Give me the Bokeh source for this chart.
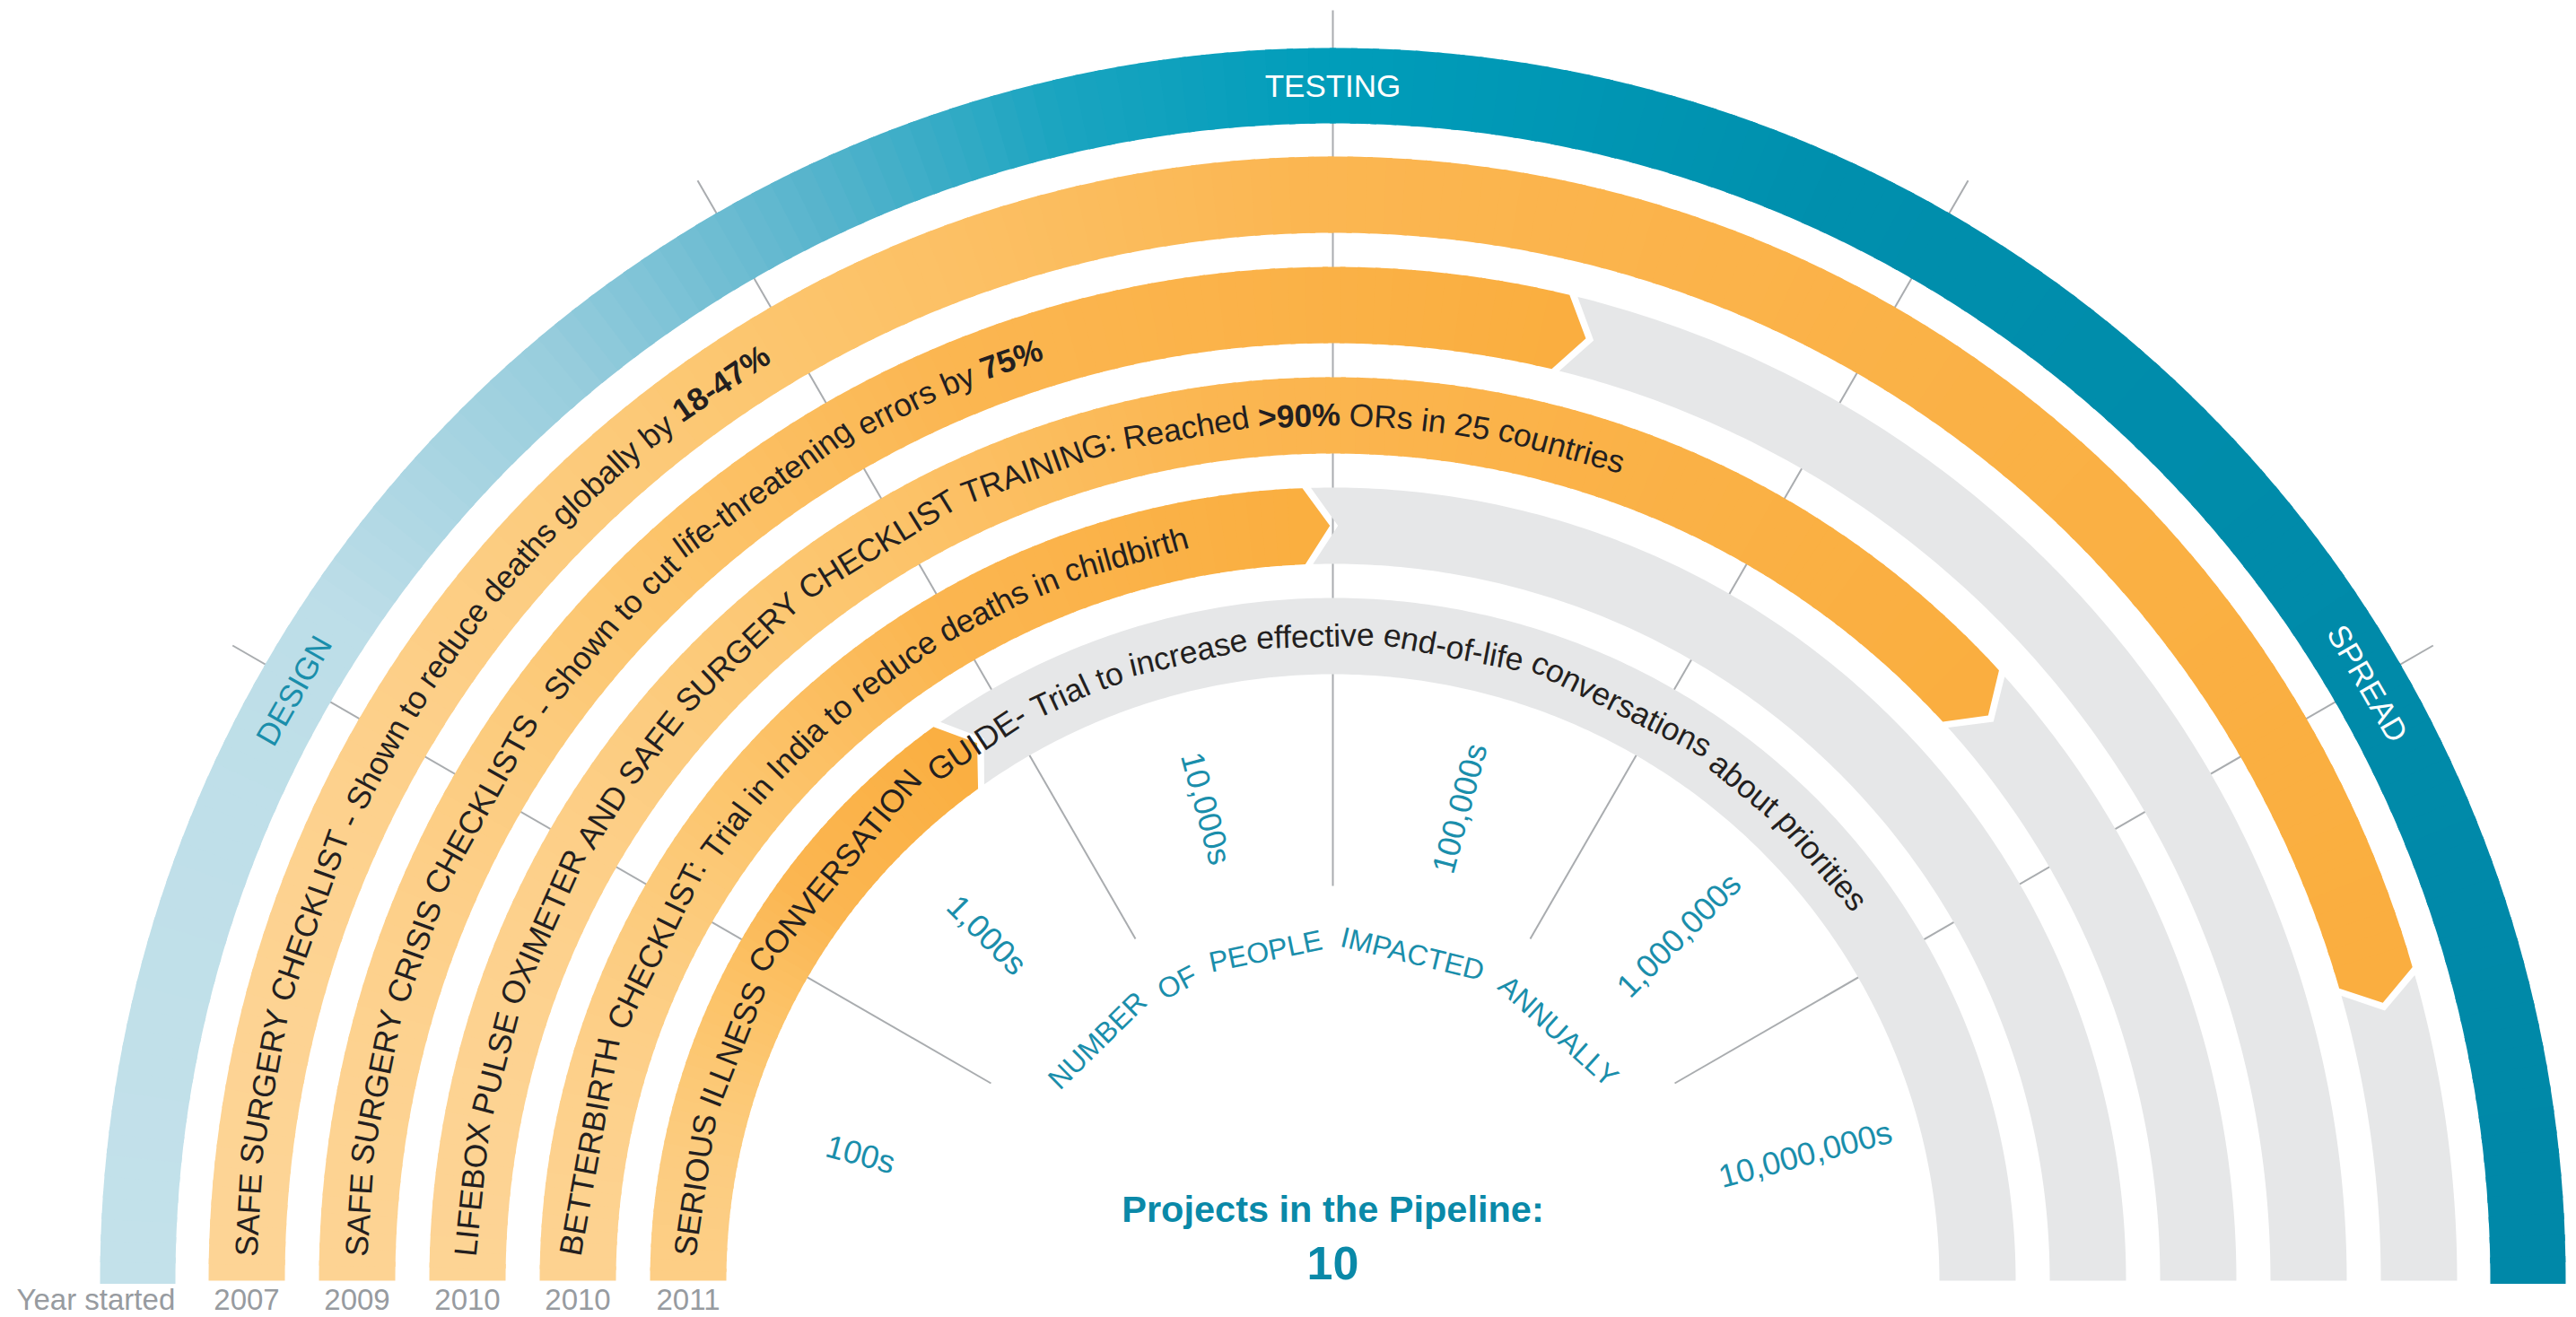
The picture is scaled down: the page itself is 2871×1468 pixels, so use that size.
import math
import numpy as np
from bokeh.plotting import figure
from bokeh.models import Range1d, ColumnDataSource
from bokeh.embed import file_html
from bokeh.resources import INLINE
from bokeh.core.properties import value

# ---------------- data ----------------
stage_names = ["DESIGN", "TESTING", "SPREAD"]
stage_angles = [150.4, 90.0, 30.0]
project_text = [
    "SAFE SURGERY CHECKLIST - Shown to reduce deaths globally by",
    "SAFE SURGERY CRISIS CHECKLISTS - Shown to cut life-threatening errors by",
    "LIFEBOX PULSE OXIMETER AND SAFE SURGERY CHECKLIST TRAINING: Reached",
    "BETTERBIRTH CHECKLIST: Trial in India to reduce deaths in childbirth",
    "SERIOUS ILLNESS CONVERSATION GUIDE- Trial to increase effective end-of-life conversations about priorities",
]
project_highlight = ["18-47%", "75%", ">90%", "", ""]
project_tail = ["", "", "ORs in 25 countries", "", ""]
year_started = ["2007", "2009", "2010", "2010", "2011"]
progress_deg = [163.8, 103.5, 137.5, 87.8, 54.2]
impact_labels = ["100s", "1,000s", "10,000s", "100,000s", "1,000,000s", "10,000,000s"]
impact_angles = [165, 135, 105, 75, 45, 15]
impact_title = "NUMBER OF PEOPLE IMPACTED ANNUALLY"
pipeline_title = "Projects in the Pipeline:"
pipeline_count = 10
year_title = "Year started"
divider_angles = [30, 60, 90, 120, 150]

# ---------------- layout / style ----------------
W, H = 2871, 1468
CX, CY = 1485, 1427          # centre of the arcs in page pixels
R_STAGE_IN, R_STAGE_OUT = 1290, 1374
BAND_OUT0, BAND_PITCH, BAND_THICK = 1253, 123, 85
TIP_PX, GAP_PX = 29, 9
FONT = "Liberation Sans"
TEAL_STOPS = [(180, "#C3E1EA"), (146, "#BDDEE8"), (130, "#98CDDD"), (116, "#5AB5CD"),
              (103, "#1AA4C0"), (90, "#009DBA"), (65, "#008FAD"), (30, "#008AA9"), (0, "#0088A8")]
ORANGE_STOPS = [(0.0, "#FDD598"), (0.25, "#FCC66F"), (0.5, "#FBB651"), (1.0, "#FAAE3F")]
GRAY = "#E6E7E8"
LINE_GRAY = "#A9ACAF"
DARK = "#231F20"
TEAL_TXT = "#1A8EAB"
YEAR_GRAY = "#979BA0"

_chars = " !\"#$%&'()*+,-./0123456789:;<=>?@ABCDEFGHIJKLMNOPQRSTUVWXYZ[\\]^_`abcdefghijklmnopqrstuvwxyz"
_w = ([278, 278, 355, 556, 556, 889, 667, 191, 333, 333, 389, 584, 278, 333, 278, 278] + [556] * 10 +
      [278, 278, 584, 584, 584, 556, 1015] +
      [667, 667, 722, 722, 667, 611, 778, 722, 278, 500, 667, 556, 833, 722, 778, 667, 778, 722, 667, 611,
       722, 667, 944, 667, 667, 611] +
      [278, 278, 278, 469, 556, 333] +
      [556, 556, 500, 556, 556, 278, 556, 556, 222, 222, 500, 222, 833, 556, 556, 556, 556, 333, 500, 278,
       556, 500, 722, 500, 500, 500])
CW = dict(zip(_chars, _w))


def text_w(s, px):
    return sum(CW.get(c, 556) for c in s) * px / 1000.0


def hex2rgb(h):
    return tuple(int(h[i:i + 2], 16) for i in (1, 3, 5))


def interp(stops, t):
    stops = sorted(stops, key=lambda s: s[0])
    if t <= stops[0][0]:
        return stops[0][1]
    if t >= stops[-1][0]:
        return stops[-1][1]
    for (t0, c0), (t1, c1) in zip(stops[:-1], stops[1:]):
        if t0 <= t <= t1:
            f = (t - t0) / (t1 - t0)
            a, b = hex2rgb(c0), hex2rgb(c1)
            return "#%02x%02x%02x" % tuple(int(round(a[i] + (b[i] - a[i]) * f)) for i in range(3))
    return stops[-1][1]


def arc(r, a0, a1):
    n = max(2, int(abs(a1 - a0) / 0.5) + 1)
    t = np.radians(np.linspace(a0, a1, n))
    return list(r * np.cos(t)), list(r * np.sin(t))


def pol(r, a):
    t = math.radians(a)
    return r * math.cos(t), r * math.sin(t)


p = figure(width=W, height=H, x_range=Range1d(-CX, W - CX), y_range=Range1d(CY - H, CY),
           output_backend="svg", toolbar_location=None, min_border=0,
           x_axis_location=None, y_axis_location=None,
           background_fill_color="white", border_fill_color="white", outline_line_color=None)
p.grid.visible = False

# divider lines (under the bands)
p.segment(x0=[pol(440, a)[0] for a in divider_angles], y0=[pol(440, a)[1] for a in divider_angles],
          x1=[pol(1416, a)[0] for a in divider_angles], y1=[pol(1416, a)[1] for a in divider_angles],
          line_color=LINE_GRAY, line_width=2)

# stage ring with gradient
xs, ys, cs = [], [], []
for i in range(180):
    a0, a1 = 180 - i, 179 - i
    ox, oy = arc(R_STAGE_OUT, a0 + 0.15, a1 - 0.15)
    ix, iy = arc(R_STAGE_IN, a1 - 0.15, a0 + 0.15)
    xs.append(ox + ix)
    ys.append(oy + iy)
    cs.append(interp(TEAL_STOPS, (a0 + a1) / 2))
p.patches(xs="xs", ys="ys", fill_color="c", line_color=None,
          source=ColumnDataSource(dict(xs=xs, ys=ys, c=cs)))

# project bands
gx, gy = [], []
oxs, oys, ocs = [], [], []
for k, prog in enumerate(progress_deg):
    r_out = BAND_OUT0 - BAND_PITCH * k
    r_in = r_out - BAND_THICK
    r_mid = (r_out + r_in) / 2
    end = 180 - prog
    tip = math.degrees(TIP_PX / r_mid)
    gap = math.degrees(GAP_PX / r_mid)
    g0 = end - gap
    ax, ay = arc(r_out, g0, 0)
    bx, by = arc(r_in, 0, g0)
    nx, ny = pol(r_mid, g0 - tip)
    gx.append(ax + bx + [nx])
    gy.append(ay + by + [ny])
    x_left = -r_out
    x_right = max(pol(r_out, end)[0], pol(r_mid, end - tip)[0])
    n = int(math.ceil(prog / 1.0))
    angs = np.linspace(180, end, n + 1)
    for j in range(n):
        a0, a1 = angs[j], angs[j + 1]
        last = j == n - 1
        a1e = a1 if last else a1 - 0.15
        a0e = a0 if j == 0 else a0 + 0.15
        ox_, oy_ = arc(r_out, a0e, a1e)
        ix_, iy_ = arc(r_in, a1e, a0e)
        if last:
            tx, ty = pol(r_mid, end - tip)
            px_ = ox_ + [tx] + ix_
            py_ = oy_ + [ty] + iy_
        else:
            px_ = ox_ + ix_
            py_ = oy_ + iy_
        xm = pol(r_mid, (a0 + a1) / 2)[0]
        t = (xm - x_left) / (x_right - x_left)
        oxs.append(px_)
        oys.append(py_)
        ocs.append(interp(ORANGE_STOPS, t))

p.patches(xs=gx, ys=gy, fill_color=GRAY, line_color=None)
p.patches(xs="xs", ys="ys", fill_color="c", line_color=None,
          source=ColumnDataSource(dict(xs=oxs, ys=oys, c=ocs)))


# ---------------- curved texts ----------------
def layout(tokens, r_c, s_start, px, extra=0.0):
    out = []
    s = s_start
    sp = 278 * px / 1000.0 + extra
    for w, b in tokens:
        wd = text_w(w, px)
        th = math.pi - (s + wd / 2) / r_c
        out.append((r_c * math.cos(th), r_c * math.sin(th), w, th - math.pi / 2, b))
        s += wd + sp
    return out


BAND_PX = 35.5
norm = dict(x=[], y=[], t=[], a=[])
bold = dict(x=[], y=[], t=[], a=[])
for k in range(len(project_text)):
    r_out = BAND_OUT0 - BAND_PITCH * k
    r_mid = r_out - BAND_THICK / 2
    toks = [(w, False) for w in project_text[k].split()]
    if project_highlight[k]:
        toks.append((project_highlight[k], True))
    toks += [(w, False) for w in project_tail[k].split()]
    for x, y, w, a, b in layout(toks, r_mid, 27, BAND_PX):
        d = bold if b else norm
        d["x"].append(x); d["y"].append(y); d["t"].append(w); d["a"].append(a)

p.text(x="x", y="y", text="t", angle="a", source=ColumnDataSource(norm),
       text_font=value(FONT), text_font_size=value(f"{BAND_PX}px"), text_color=DARK,
       text_align="center", text_baseline="middle")
p.text(x="x", y="y", text="t", angle="a", source=ColumnDataSource(bold),
       text_font=value(FONT), text_font_size=value(f"{BAND_PX}px"), text_font_style="bold",
       text_color=DARK, text_align="center", text_baseline="middle")

# stage labels
r_sm = (R_STAGE_IN + R_STAGE_OUT) / 2
sx = [pol(r_sm, a)[0] for a in stage_angles]
sy = [pol(r_sm, a)[1] for a in stage_angles]
sa = [math.radians(a - 90) for a in stage_angles]
sc = [TEAL_TXT, "white", "white"]
p.text(x=sx, y=sy, text=stage_names, angle=sa, text_color=sc,
       text_font=value(FONT), text_font_size=value("35px"),
       text_align="center", text_baseline="middle")

# impact labels
ix = [pol(545, a)[0] for a in impact_angles]
iy = [pol(545, a)[1] for a in impact_angles]
ia = [math.radians(a - 180 if a > 90 else a) for a in impact_angles]
p.text(x=ix, y=iy, text=impact_labels, angle=ia, text_color=TEAL_TXT,
       text_font=value(FONT), text_font_size=value("36px"),
       text_align="center", text_baseline="middle")

# curved axis title
T_PX = 32
R_T = 375
words = impact_title.split()
total_w = sum(text_w(w, T_PX) for w in words)
target = math.radians(110) * R_T
extra = (target - total_w) / (len(words) - 1) - 278 * T_PX / 1000.0
lay = layout([(w, False) for w in words], R_T, R_T * math.pi / 2 - target / 2, T_PX, extra)
p.text(x=[l[0] for l in lay], y=[l[1] for l in lay], text=[l[2] for l in lay],
       angle=[l[3] for l in lay], text_color=TEAL_TXT, text_font=value(FONT),
       text_font_size=value(f"{T_PX}px"), text_align="center", text_baseline="middle")

# centre title
p.text(x=[0], y=[CY - 1347], text=[pipeline_title], text_color="#0A89A8", text_font=value(FONT),
       text_font_size=value("41.5px"), text_font_style="bold", text_align="center",
       text_baseline="middle")
p.text(x=[0], y=[CY - 1407], text=[str(pipeline_count)], text_color="#0A89A8", text_font=value(FONT),
       text_font_size=value("52px"), text_font_style="bold", text_align="center",
       text_baseline="middle")

# years
yx = [-(BAND_OUT0 - BAND_PITCH * k - BAND_THICK / 2) for k in range(len(year_started))]
p.text(x=yx, y=[CY - 1448] * len(yx), text=year_started, text_color=YEAR_GRAY,
       text_font=value(FONT), text_font_size=value("33px"), text_align="center",
       text_baseline="middle")
p.text(x=[18 - CX], y=[CY - 1448], text=[year_title], text_color=YEAR_GRAY,
       text_font=value(FONT), text_font_size=value("33px"), text_align="left",
       text_baseline="middle")

open("out.html", "w").write(file_html(p, INLINE))
